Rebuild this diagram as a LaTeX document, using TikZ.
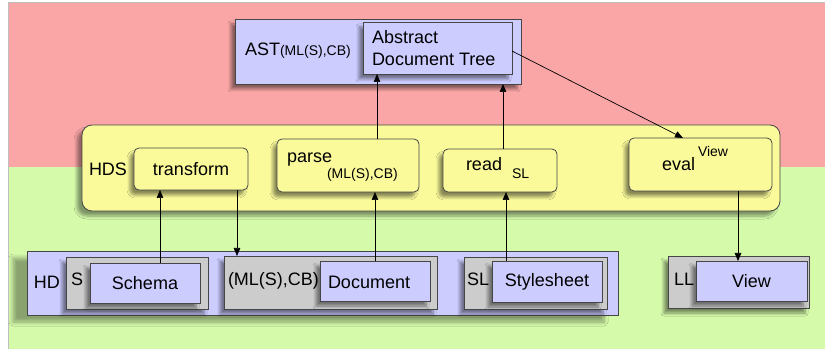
\documentclass[tikz,border=0pt]{standalone}
\usepackage{fontspec}
\setmainfont{Liberation Sans}
\usetikzlibrary{arrows.meta,shadows.blur}
\definecolor{upperbg}{RGB}{250,166,166}
\definecolor{lowerbg}{RGB}{212,250,170}
\definecolor{lav}{RGB}{204,204,255}
\definecolor{grayfill}{RGB}{204,204,204}
\definecolor{yel}{RGB}{250,250,155}
\definecolor{edge}{RGB}{70,70,70}
\begin{document}
\begin{tikzpicture}[x=1pt,y=-1pt,
  txt/.style={inner sep=0pt, outer sep=0pt, font=\fontsize{18}{22}\selectfont, text=black},
  smalltxt/.style={inner sep=0pt, outer sep=0pt, font=\fontsize{14}{16}\selectfont, text=black},
  boxbase/.style={draw=edge, line width=0.8pt, inner sep=0pt, outer sep=0pt,
    font=\fontsize{18}{22}\selectfont, text=black},
  shad/.style={blur shadow={shadow xshift=-4pt, shadow yshift=-5pt,
    shadow opacity=45, shadow blur steps=6, shadow blur radius=3pt}},
  lavbox/.style={boxbase, fill=lav, shad},
  graybox/.style={boxbase, fill=grayfill, shad},
  yelbox/.style={boxbase, fill=yel, rounded corners=5pt, shad},
  arr/.style={draw=black, line width=0.7pt, -{Triangle[length=8pt,width=6.5pt]}}
]
\useasboundingbox (0,0) rectangle (825,352);
\fill[white] (0,0) rectangle (825,352);
% background layers
\fill[upperbg] (8,2) rectangle (825,167);
\fill[lowerbg] (8,167) rectangle (825,349);
\draw[black!25, line width=0.8pt] (8.4,349) -- (8.4,2.4) -- (825,2.4);

% abstract syntax tree level
\node[lavbox, minimum width=286pt, minimum height=65pt] (astout) at (378,51.5) {};
\node[smalltxt, anchor=base west] (astlbl) at (245,56)
  {{\fontsize{18}{22}\selectfont AST}(ML(S),CB)};
\node[lavbox, minimum width=149pt, minimum height=52pt] (astin) at (437.5,48) {};
\node[txt, anchor=north west, align=left] (asttxt) at (372,30) {Abstract\\Document Tree};

% HDS level
\node[boxbase, fill=yel, rounded corners=10pt, minimum width=698pt, minimum height=86pt,
  blur shadow={shadow xshift=-5pt, shadow yshift=-5pt, shadow opacity=40, shadow blur steps=6, shadow blur radius=3pt}]
  (hds) at (431,168) {};
\node[txt, anchor=base west] (hdslbl) at (89,176) {HDS};
\node[yelbox, minimum width=114pt, minimum height=42pt] (transform) at (191,169) {transform};
\node[yelbox, minimum width=142pt, minimum height=53pt] (parse) at (348,165.5) {};
\node[txt, anchor=base west] (parselbl) at (287,163) {parse};
\node[smalltxt, anchor=base west] (parsesub) at (327,179) {(ML(S),CB)};
\node[yelbox, minimum width=114pt, minimum height=43pt] (read) at (500,170.5) {};
\node[txt, anchor=base west] (readlbl) at (466,171) {read};
\node[smalltxt, anchor=base west] (readsub) at (512,179) {SL};
\node[yelbox, minimum width=143pt, minimum height=53pt] (eval) at (700.5,164.5) {};
\node[txt, anchor=base west] (evallbl) at (662,171) {eval};
\node[smalltxt, anchor=base west] (evalsup) at (698,157) {View};

% HD level
\node[boxbase, fill=lav, minimum width=591pt, minimum height=64pt,
  blur shadow={shadow xshift=-14pt, shadow yshift=-7pt, shadow opacity=35, shadow blur steps=6, shadow blur radius=4pt}]
  (hd) at (322.5,283) {};
\node[txt, anchor=base west] (hdlbl) at (34,289) {HD};
\node[graybox, minimum width=142pt, minimum height=52pt] (sgray) at (137,283) {};
\node[txt, anchor=base west] (slbl) at (71,286) {S};
\node[lavbox, minimum width=110pt, minimum height=40pt] (schema) at (145,283) {Schema};
\node[graybox, minimum width=213pt, minimum height=53pt] (mlgray) at (330.5,282.5) {};
\node[txt, anchor=base west] (mllbl) at (228,286) {(ML(S),CB)};
\node[lavbox, minimum width=110pt, minimum height=40pt] (document) at (375,281) {};
\node[txt, anchor=base west] (doclbl) at (328,289) {Document};
\node[graybox, minimum width=143pt, minimum height=52pt] (slgray) at (535.5,283) {};
\node[txt, anchor=base west] (sllbl) at (467,286) {SL};
\node[lavbox, minimum width=110pt, minimum height=41pt] (stylesheet) at (547,281.5) {Stylesheet};

% LL level
\node[graybox, minimum width=141pt, minimum height=52pt] (llgray) at (738.5,282) {};
\node[txt, anchor=base west] (lllbl) at (674,286) {LL};
\node[lavbox, minimum width=111pt, minimum height=40pt] (view) at (751.5,281) {View};

% connectors
\draw[arr] (schema.north -| 160,0) -- (transform.south -| 160,0);
\draw[arr] (transform.south -| 237,0) -- (mlgray.north -| 237,0);
\draw[arr] (document.north -| 375,0) -- (parse.south -| 375,0);
\draw[arr] (parse.north -| 377,0) -- (astin.south -| 377,0);
\draw[arr] (read.north -| 503,0) -- (astout.south -| 503,0);
\draw[arr] (stylesheet.north -| 506,0) -- (read.south -| 506,0);
\draw[arr] (astin.east |- 0,51) -- (eval.north -| 683,0);
\draw[arr] (eval.south -| 738,0) -- (view.north -| 738,0);
\end{tikzpicture}
\end{document}
